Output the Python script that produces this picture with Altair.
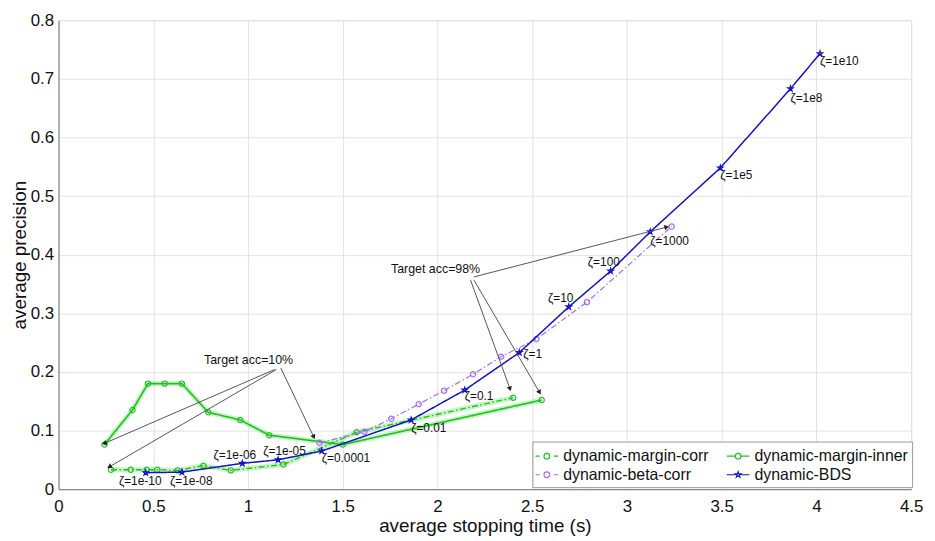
import math
import altair as alt
import pandas as pd

# ---------------- data ----------------
series_names = ["dynamic-margin-corr", "dynamic-margin-inner",
                "dynamic-beta-corr", "dynamic-BDS"]
series_colors = ["#1ec31e", "#1ec31e", "#a46cf5", "#1212c8"]

corr_x = [0.277, 0.381, 0.465, 0.521, 0.628, 0.764, 0.909, 1.187, 1.573, 2.400]
corr_y = [0.033, 0.033, 0.033, 0.033, 0.032, 0.040, 0.032, 0.042, 0.097, 0.156]

inner_x = [0.242, 0.390, 0.472, 0.560, 0.651, 0.790, 0.959, 1.112, 1.500, 2.550]
inner_y = [0.076, 0.135, 0.180, 0.180, 0.180, 0.131, 0.118, 0.092, 0.076, 0.152]

beta_x = [1.377, 1.614, 1.756, 1.901, 2.035, 2.188, 2.336, 2.522, 2.789, 3.236]
beta_y = [0.079, 0.098, 0.120, 0.145, 0.168, 0.196, 0.226, 0.256, 0.319, 0.448]

bds_x = [0.460, 0.651, 0.970, 1.159, 1.389, 1.861, 2.144, 2.432, 2.693, 2.914,
         3.123, 3.493, 3.863, 4.019]
bds_y = [0.028, 0.029, 0.044, 0.050, 0.065, 0.118, 0.169, 0.233, 0.311, 0.372,
         0.439, 0.548, 0.683, 0.743]
zeta_labels = ["ζ=1e-10", "ζ=1e-08", "ζ=1e-06", "ζ=1e-05", "ζ=0.0001", "ζ=0.01",
               "ζ=0.1", "ζ=1", "ζ=10", "ζ=100", "ζ=1000", "ζ=1e5", "ζ=1e8", "ζ=1e10"]
# pixel offsets of each zeta label from its point (style)
zeta_dx = [-27, -12, -29, -15, 0, 0, 0, 4, -21, -23, 0, 0, 0, 0]
zeta_dy = [8, 9, -8, -9, 7, 8, 6, 2, -9, -9, 9, 7, 9, 7]

# annotations: text and arrows (start -> tip) in data units
ann_text = ["Target acc=10%", "Target acc=98%"]
ann_x = [1.003, 1.990]
ann_y = [0.2195, 0.376]
arrow_x1 = [1.140, 1.150, 1.173, 2.174, 2.192, 2.192]
arrow_y1 = [0.204, 0.204, 0.2067, 0.357, 0.357, 0.362]
arrow_x2 = [0.242, 0.268, 1.347, 2.383, 2.539, 3.210]
arrow_y2 = [0.078, 0.038, 0.089, 0.171, 0.165, 0.447]

x_ticks = [0, 0.5, 1, 1.5, 2, 2.5, 3, 3.5, 4, 4.5]
y_ticks = [0, 0.1, 0.2, 0.3, 0.4, 0.5, 0.6, 0.7, 0.8]

# ---------------- build tables ----------------
rows = []
for name, xs_, ys_ in [(series_names[0], corr_x, corr_y),
                       (series_names[1], inner_x, inner_y),
                       (series_names[2], beta_x, beta_y),
                       (series_names[3], bds_x, bds_y)]:
    for i, (xv, yv) in enumerate(zip(xs_, ys_)):
        rows.append({"series": name, "x": xv, "y": yv, "i": i})
df = pd.DataFrame(rows)

W, H = 860, 473
XMAX, YMAX = 4.5, 0.8
FONT = "Liberation Sans"

xs = alt.Scale(domain=[0, XMAX], nice=False, zero=False)
ys = alt.Scale(domain=[0, YMAX], nice=False, zero=False)

X = alt.X("x:Q", scale=xs, title="average stopping time (s)",
          axis=alt.Axis(values=x_ticks, format="~g"))
Y = alt.Y("y:Q", scale=ys, title="average precision",
          axis=alt.Axis(values=y_ticks, format="~g"))

base = alt.Chart(df)

# light green halo under the green curves
halo = base.transform_filter(
    alt.FieldOneOfPredicate(field="series", oneOf=series_names[:2])
).mark_line(strokeWidth=5, opacity=0.35, color="#5fdc5f").encode(
    x=X, y=Y, detail="series:N", order="i:Q")

star_path = ("M0,-1L0.22,-0.31L0.95,-0.31L0.36,0.12L0.59,0.81L0,0.38"
             "L-0.59,0.81L-0.36,0.12L-0.95,-0.31L-0.22,-0.31Z")

dashdot = [6, 2.5, 1.5, 2.5]
styles = [(dashdot, 1.4, "circle", 28),
          ([1, 0], 1.6, "circle", 28),
          (dashdot, 1.2, "circle", 28),
          ([1, 0], 1.5, star_path, 32)]
series_layers = []
for name, col, (dash, width, shp, sz) in zip(series_names, series_colors, styles):
    sub = base.transform_filter(alt.datum.series == name)
    series_layers.append(
        sub.mark_line(strokeWidth=width, strokeDash=dash, color=col)
        .encode(x=X, y=Y, order="i:Q"))
    series_layers.append(
        sub.mark_point(shape=shp, size=sz, filled=False, strokeWidth=1.2,
                       color=col, opacity=1)
        .encode(x=X, y=Y))

# zeta labels
zeta_layers = []
for k, lab in enumerate(zeta_labels):
    d = pd.DataFrame({"x": [bds_x[k]], "y": [bds_y[k]], "t": [lab]})
    zeta_layers.append(
        alt.Chart(d).mark_text(align="left", baseline="middle", fontSize=12,
                               font=FONT, color="#111",
                               dx=zeta_dx[k], dy=zeta_dy[k])
        .encode(x=X, y=Y, text="t:N"))

# annotation arrows
adf = pd.DataFrame({"x": arrow_x1, "y": arrow_y1, "x2": arrow_x2, "y2": arrow_y2})
px_per_x = W / XMAX
px_per_y = H / YMAX
adf["ang"] = [
    (math.degrees(math.atan2((b - a) * px_per_x, (d - c) * px_per_y)) + 360) % 360
    for a, b, c, d in zip(arrow_x1, arrow_x2, arrow_y1, arrow_y2)
]
arrow_lines = alt.Chart(adf).mark_rule(color="#555", strokeWidth=1).encode(
    x=X, y=Y, x2="x2:Q", y2="y2:Q")
arrow_heads = alt.Chart(adf).mark_point(
    shape="triangle-up", filled=True, size=30, color="#222", opacity=1).encode(
    x=alt.X("x2:Q", scale=xs), y=alt.Y("y2:Q", scale=ys),
    angle=alt.Angle("ang:Q", scale=None))

tdf = pd.DataFrame({"x": ann_x, "y": ann_y, "t": ann_text})
ann_texts = alt.Chart(tdf).mark_text(fontSize=12.5, font=FONT, color="#111").encode(
    x=X, y=Y, text="t:N")

# legend (built from an invisible layer); legend fills column by column,
# so the domain is ordered to read row-wise as in the reference
leg_order = [series_names[0], series_names[2], series_names[1], series_names[3]]
leg_colors = [series_colors[0], series_colors[2], series_colors[1], series_colors[3]]
leg_dash = "M-1.2,0L-0.75,0M0.75,0L1.2,0M0.3,0A0.3,0.3,0,1,1,-0.3,0A0.3,0.3,0,1,1,0.3,0"
leg_solid = "M-1.2,0L-0.3,0M0.3,0L1.2,0M0.3,0A0.3,0.3,0,1,1,-0.3,0A0.3,0.3,0,1,1,0.3,0"
leg_star = ("M-1.2,0L-0.3,0M0.3,0L1.2,0M0,-0.32L0.07,-0.1L0.3,-0.1L0.12,0.04L0.19,0.26"
            "L0,0.12L-0.19,0.26L-0.12,0.04L-0.3,-0.1L-0.07,-0.1Z")
legend = alt.Legend(title=None, orient="none", legendX=478, legendY=425,
                    columns=2, columnPadding=7, rowPadding=0, gridAlign="all",
                    symbolSize=361, symbolStrokeWidth=1.2, symbolOpacity=1,
                    labelFontSize=16, labelFont=FONT, labelColor="#111",
                    labelOffset=6, padding=4, strokeColor="#999",
                    fillColor="white", symbolFillColor="transparent")
legend_layer = base.transform_filter(alt.datum.i == 0).mark_point(
    filled=False, opacity=0).encode(
    x=X, y=Y,
    color=alt.Color("series:N", scale=alt.Scale(domain=leg_order, range=leg_colors),
                    legend=legend),
    shape=alt.Shape("series:N",
                    scale=alt.Scale(domain=leg_order,
                                    range=[leg_dash, leg_dash, leg_solid, leg_star]),
                    legend=legend))

chart = alt.layer(
    halo, *series_layers, arrow_lines, arrow_heads, ann_texts,
    *zeta_layers, legend_layer
).properties(
    width=W, height=H,
    autosize=alt.AutoSizeParams(type="none"),
    padding={"left": 51, "top": 10, "right": 16, "bottom": 48},
).configure_view(
    stroke="#dddddd", strokeWidth=1
).configure_axis(
    labelFontSize=17, titleFontSize=19, labelFont=FONT, titleFont=FONT,
    titleFontWeight="normal", labelColor="#111", titleColor="#111",
    ticks=False, domainColor="#8a8a8a", domainWidth=1.2,
    gridColor="#e2e2e2", gridWidth=1, labelFlush=False,
).configure_axisX(
    labelPadding=10, titlePadding=2
).configure_axisY(
    labelPadding=5, titlePadding=1
)

chart.save("out.html", embed_options={"renderer": "svg", "actions": False})
